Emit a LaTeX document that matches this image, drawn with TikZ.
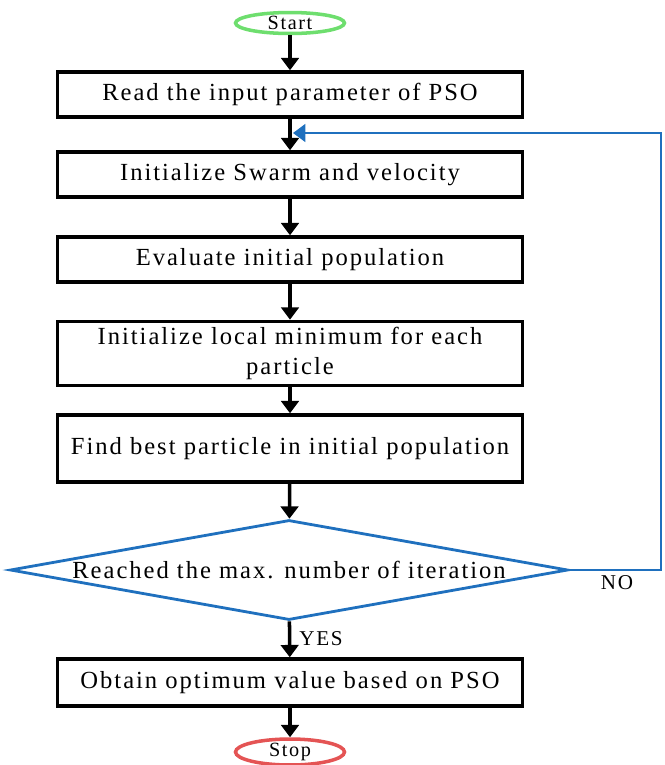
\documentclass[tikz,border=0pt]{standalone}
\usepackage{fontspec}
\setmainfont{Liberation Serif}[LetterSpace=8]
\usetikzlibrary{shapes.geometric,arrows.meta}
\definecolor{psoblue}{RGB}{31,112,190}
\definecolor{psogreen}{RGB}{110,222,110}
\definecolor{psored}{RGB}{228,84,84}
\begin{document}
\begin{tikzpicture}[x=0.02cm, y=-0.02cm, ->, >={Triangle[length=7pt,width=10pt]}, line width=2pt,
  box/.style={draw, line width=2pt, minimum width=9.3cm, align=center, text width=9cm, font=\fontsize{14}{17}\selectfont},
  term/.style={draw, ellipse, line width=2pt, minimum width=2.18cm, minimum height=0.42cm, inner sep=0pt, font=\fontsize{11.5}{13}\selectfont},
  test/.style={draw=psoblue, diamond, line width=1.6pt, aspect=5.58, minimum width=11.16cm, minimum height=2cm, inner sep=0pt, font=\fontsize{14}{17}\selectfont}]
\useasboundingbox (0,0) rectangle (664,765);
\node[term, draw=psogreen] (start) at (290,23) {Start};
\node[box, minimum height=0.9cm] (read) at (290,94.5) {Read the input parameter of PSO};
\node[box, minimum height=0.9cm] (init) at (290,174.5) {Initialize Swarm and velocity};
\node[box, minimum height=0.9cm] (eval) at (290,259.5) {Evaluate initial population};
\node[box, minimum height=1.26cm] (local) at (290,353.5) {Initialize local minimum for each\\ particle};
\node[box, minimum height=1.34cm] (best) at (290,448.5) {Find best particle in initial population};
\node[test] (cond) at (289,570) {Reached the max. number of iteration};
\node[box, minimum height=0.94cm] (result) at (290,682.5) {Obtain optimum value based on PSO};
\node[term, draw=psored, minimum height=0.52cm] (stop) at (290,752) {Stop};
\node[font=\fontsize{12}{14}\selectfont] (no) at (617,583) {NO};
\node[font=\fontsize{12}{14}\selectfont] (yes) at (321,639) {YES};
\coordinate (join) at (293,133);
\coordinate (turn) at (661,133);
\draw (start) -- (read);
\draw (read) -- (init);
\draw (init) -- (eval);
\draw (eval) -- (local);
\draw (local) -- (best);
\draw (best) -- (cond);
\draw (cond) -- (result);
\draw (result) -- (stop);
\draw[psoblue, line width=1.4pt] (cond.east) -| (turn) -- (join);
\end{tikzpicture}
\end{document}
